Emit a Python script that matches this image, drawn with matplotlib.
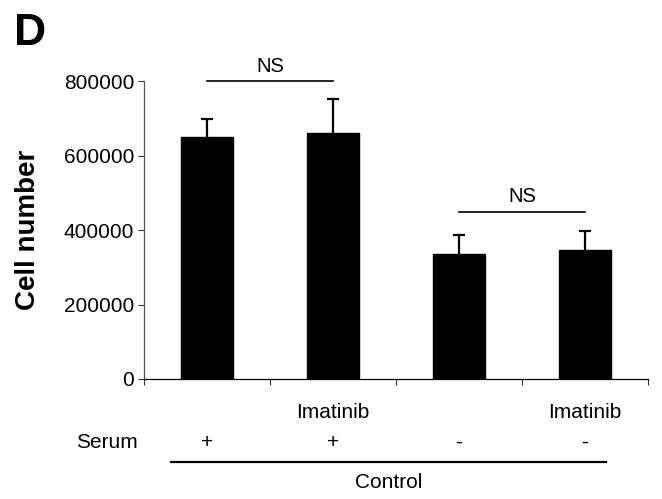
import matplotlib
matplotlib.use("Agg")
import matplotlib.pyplot as plt
from matplotlib.lines import Line2D

plt.rcParams['font.family'] = ['Liberation Sans', 'DejaVu Sans']

# Data
groups = ["Serum + ", "Serum + Imatinib", "Serum -", "Serum - Imatinib"]
cell_number = [650000, 662000, 337000, 347000]
cell_sd = [50000, 90000, 50000, 50000]
treatment_labels = ["", "Imatinib", "", "Imatinib"]
serum_labels = ["+", "+", "-", "-"]
ns_pairs = [(0, 1, 800000), (2, 3, 450000)]
y_ticks = [0, 200000, 400000, 600000, 800000]

fig = plt.figure(figsize=(6.62, 4.99), dpi=100)
ax = fig.add_axes([144 / 662, 1 - 379 / 499, (648 - 144) / 662, (379 - 81.3) / 499])

x = list(range(len(cell_number)))
ax.bar(x, cell_number, width=0.41, color="black", edgecolor="black", zorder=2)
_, caps, _ = ax.errorbar(x, cell_number, yerr=[[0] * len(cell_sd), cell_sd], fmt="none",
                         ecolor="black", elinewidth=1.6, capsize=4, capthick=1.6, zorder=3)
# keep only the upper caps
caps[0].set_visible(False)

ax.set_xlim(-0.5, 3.5)
ax.set_ylim(0, 800000)
ax.set_yticks(y_ticks)
ax.set_yticklabels([str(v) for v in y_ticks], fontsize=15)
ax.set_xticks([-0.5, 0.5, 1.5, 2.5, 3.5])
ax.set_xticklabels([])
ax.tick_params(axis="both", direction="out", length=4, width=0.8, colors="#333333")
ax.tick_params(axis="y", pad=3, labelcolor="black")
for side in ("top", "right"):
    ax.spines[side].set_visible(False)
ax.spines["left"].set_color("#555555")
ax.spines["left"].set_linewidth(0.9)
ax.spines["bottom"].set_color("black")
ax.spines["bottom"].set_linewidth(0.9)

ax.set_ylabel("Cell number", fontsize=20, fontweight="bold", va="center")
ax.yaxis.set_label_coords(-0.23, 0.5)

# Significance brackets
for a, b, yv in ns_pairs:
    ax.plot([a, b], [yv, yv], color="black", lw=1.2, clip_on=False)
    ax.annotate("NS", xy=((a + b) / 2, yv), xytext=(0, 4), textcoords="offset points",
                ha="center", va="bottom", fontsize=14.5)

# Condition rows below the axis
tr = ax.get_xaxis_transform()
for xi, lab in zip(x, treatment_labels):
    if lab:
        ax.text(xi, -0.114, lab, transform=tr, ha="center", va="center", fontsize=15)
ax.text(-0.794, -0.212, "Serum", transform=tr, ha="center", va="center", fontsize=15)
for xi, lab in zip(x, serum_labels):
    ax.text(xi, -0.212, lab, transform=tr, ha="center", va="center", fontsize=15)
ax.add_line(Line2D([-0.286, 3.167], [-0.279, -0.279], transform=tr, color="black",
                   lw=1.6, clip_on=False))
ax.text(1.44, -0.349, "Control", transform=tr, ha="center", va="center", fontsize=15)

fig.text(14 / 662, 1 - 45 / 499, "D", fontsize=32, fontweight="bold", ha="left", va="baseline")

fig.savefig("out.png", dpi=100)
